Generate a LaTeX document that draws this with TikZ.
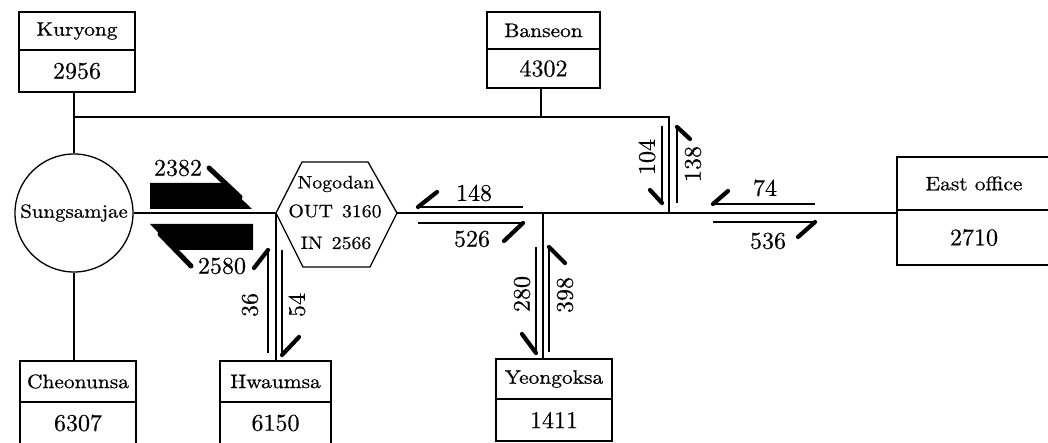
\documentclass[tikz,border=0pt]{standalone}
\usepackage{fontspec}
\newfontfamily\namefont{lmroman10-regular.otf}[FakeStretch=1.1, FakeBold=0.6]
\newfontfamily\numfont{lmroman10-regular.otf}[FakeBold=0.4]
\usepackage{tikz}
\usetikzlibrary{positioning}

\begin{document}
\begin{tikzpicture}[x=1pt, y=-1pt,
  namebox/.style={draw, line width=1.3pt, outer sep=0pt, inner sep=0pt, minimum width=116pt, minimum height=38pt, font=\namefont\fontsize{19.5}{21}\selectfont},
  numbox/.style={draw, line width=1.3pt, outer sep=0pt, inner sep=0pt, minimum width=116pt, minimum height=42pt, font=\numfont\fontsize{24}{26}\selectfont},
  link/.style={line width=1.3pt},
  flow/.style={line width=2.6pt},
  barb/.style={line width=4.2pt, line cap=round},
  bigbarb/.style={line width=5pt, line cap=round},
  val/.style={inner sep=0pt, font=\numfont\fontsize{24}{26}\selectfont},
  hub/.style={inner sep=0pt, font=\namefont\fontsize{18}{20}\selectfont}
]
  \useasboundingbox (0,0) rectangle (1048,443);

  \node[namebox] (kur) at (77,31) {Kuryong};
  \node[numbox, below=0pt of kur] (kurN) {2956};
  \node[namebox, minimum width=113pt, minimum height=37pt] (ban) at (543.5,30.5) {Banseon};
  \node[numbox, minimum width=113pt, minimum height=39pt, below=0pt of ban] (banN) {4302};
  \node[namebox, minimum width=154pt, minimum height=53pt] (eas) at (974,183.5) {East office};
  \node[numbox, minimum width=154pt, minimum height=55pt, below=0pt of eas] (easN) {2710};
  \node[namebox, minimum height=41pt] (che) at (78,381.5) {Cheonunsa};
  \node[numbox, below=0pt of che] (cheN) {6307};
  \node[namebox, minimum width=111pt, minimum height=41pt] (hwa) at (275.5,381.5) {Hwaumsa};
  \node[numbox, minimum width=111pt, below=0pt of hwa] (hwaN) {6150};
  \node[namebox, minimum height=40pt] (yeo) at (554,379) {Yeongoksa};
  \node[numbox, below=0pt of yeo] (yeoN) {1411};

  \node[draw, circle, line width=1.3pt, minimum size=118pt, inner sep=0pt, font=\namefont\fontsize{19}{21}\selectfont] (sun) at (74,213) {Sungsamjae};

  \coordinate (nogL) at (276,213);
  \coordinate (nogTL) at (302,162);
  \coordinate (nogTR) at (368,162);
  \coordinate (nogR) at (397,213);
  \coordinate (nogBR) at (370,267);
  \coordinate (nogBL) at (303,267);
  \draw[link] (nogL) -- (nogTL) -- (nogTR) -- (nogR) -- (nogBR) -- (nogBL) -- cycle;
  \node[hub] (nog) at (336,184) {Nogodan};
  \node[hub] (nogOut) at (335,211) {OUT\enspace 3160};
  \node[hub] (nogIn) at (336,243) {IN\enspace 2566};

  \coordinate (topW) at (74,117);
  \coordinate (topE) at (669,117);
  \coordinate (junE) at (669,213);
  \coordinate (junY) at (543,213);
  \draw[link] (kurN.south -| sun.north) -- (sun.north);
  \draw[link] (sun.south) -- (sun.south |- che.north);
  \draw[link] (topW) -- (topE) -- (junE);
  \draw[link] (banN.south -| 541,0) -- (topW -| 541,0);
  \draw[link] (sun.east) -- (nogL);
  \draw[link] (nogR) -- (nogR -| eas.south west);
  \draw[link] (junY) -- (junY |- yeo.north);
  \draw[link] (nogL) -- (nogL |- hwa.north);

  \fill (150,183) -- (225,183) -- (252,209) -- (150,209) -- cycle;
  \draw[bigbarb] (209,168) -- (240,197);
  \node[val] (f2382) at (178,168) {2382};
  \fill (150,224) -- (253,224) -- (253,250) -- (175,250) -- cycle;
  \draw[bigbarb] (160,234) -- (191,266);
  \node[val] (f2580) at (222,266) {2580};

  \draw[flow] (418,207) -- (523,207);
  \draw[barb] (418,207) -- (437,192);
  \node[val] (f148) at (474,193) {148};
  \draw[flow] (418,223) -- (523,223);
  \draw[barb] (523,223) -- (504,241);
  \node[val] (f526) at (472,239) {526};

  \draw[flow] (713,204) -- (815,204);
  \draw[barb] (713,204) -- (728,191);
  \node[val] (f74) at (765,188) {74};
  \draw[flow] (713,222) -- (815,222);
  \draw[barb] (815,222) -- (798,237);
  \node[val] (f536) at (768,241) {536};

  \draw[flow] (536,247) -- (536,353);
  \draw[barb] (536,353) -- (522,334);
  \node[val, rotate=90] (f280) at (522,294) {280};
  \draw[flow] (549,247) -- (549,352);
  \draw[barb] (549,247) -- (565,263);
  \node[val, rotate=90] (f398) at (565,295) {398};

  \draw[flow] (662,126) -- (662,203);
  \draw[barb] (662,203) -- (650,190);
  \node[val, rotate=90] (f104) at (647,157) {104};
  \draw[flow] (677,127) -- (677,203);
  \draw[barb] (677,127) -- (690,139);
  \node[val, rotate=90] (f138) at (693,164) {138};

  \draw[flow] (268,250) -- (268,353);
  \draw[barb] (268,250) -- (254,268);
  \node[val, rotate=90] (f36) at (250,305) {36};
  \draw[flow] (282,250) -- (282,355);
  \draw[barb] (282,355) -- (299,337);
  \node[val, rotate=90] (f54) at (297,305) {54};
\end{tikzpicture}
\end{document}
